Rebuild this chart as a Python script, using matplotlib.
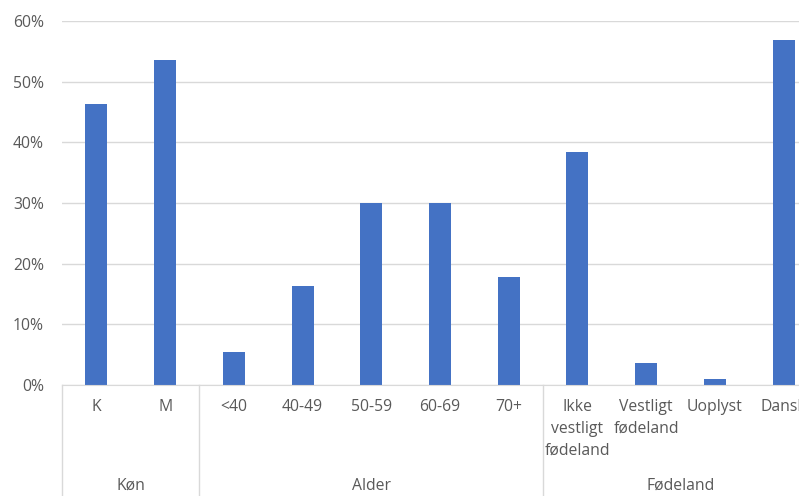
import matplotlib
matplotlib.use("Agg")
import matplotlib.pyplot as plt
import matplotlib.transforms as mtransforms
from matplotlib.ticker import PercentFormatter
from numpy import arange

groups = ["Køn", "Alder", "Fødeland"]
group_sizes = [2, 5, 4]
categories = ["K", "M", "<40", "40-49", "50-59", "60-69", "70+",
              "Ikke\nvestligt\nfødeland", "Vestligt\nfødeland", "Uoplyst", "Dansk"]
shares = [0.463, 0.536, 0.055, 0.163, 0.300, 0.300, 0.178,
          0.384, 0.036, 0.010, 0.568]

plt.rcParams["font.family"] = ["Open Sans", "DejaVu Sans"]
text_color = "#595959"
line_color = "#d9d9d9"

fig = plt.figure(figsize=(7.99, 4.96), dpi=100)
W, H = 799, 496
# plot area runs past the right edge, so the last bar is cut off
ax = fig.add_axes([62 / W, (H - 385) / H, (818 - 62) / W, (385 - 21) / H])

x = arange(len(categories))
ax.bar(x, shares, width=0.32, color="#4472C4", zorder=3)

ax.set_xlim(-0.5, len(categories) - 0.5)
ax.set_ylim(0, 0.6)
ax.set_yticks(arange(0, 0.61, 0.1))
ax.yaxis.set_major_formatter(PercentFormatter(1.0, decimals=0))
ax.tick_params(axis="y", length=0, pad=13, labelsize=11.3, labelcolor=text_color)
ax.grid(axis="y", color=line_color, linewidth=1, zorder=0)

for side in ["top", "right", "left"]:
    ax.spines[side].set_visible(False)
ax.spines["bottom"].set_color(line_color)
ax.spines["bottom"].set_zorder(4)

ax.set_xticks([])
trans = mtransforms.blended_transform_factory(ax.transData, ax.transAxes)
px = 1 / (385 - 21)

for xi, label in zip(x, categories):
    ax.text(xi, -14 * px, label, transform=trans, ha="center", va="top",
            fontsize=11.3, color=text_color, linespacing=1.5)

# group labels and separators below the category labels
start = 0
bounds = [-0.5]
for name, size in zip(groups, group_sizes):
    mid = start + (size - 1) / 2
    ax.text(mid, -101 * px, name, transform=trans, ha="center", va="center",
            fontsize=11.3, color=text_color)
    start += size
    bounds.append(start - 0.5)

for b in bounds:
    ax.plot([b, b], [0, -0.4], transform=trans, color=line_color,
            linewidth=1, clip_on=False, zorder=4)

fig.savefig("out.png", dpi=100)
